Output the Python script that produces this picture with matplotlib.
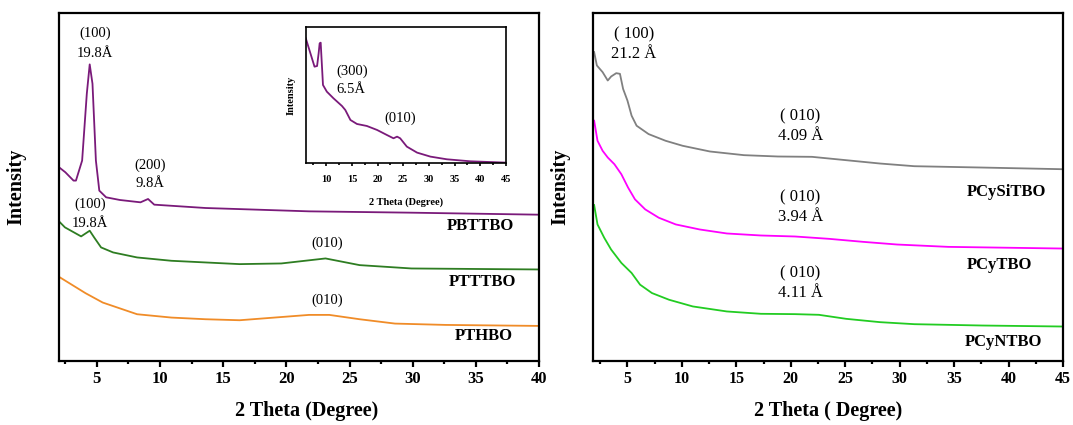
import matplotlib

matplotlib.use('Agg')

import matplotlib.pyplot as plt
from matplotlib.ticker import MultipleLocator

plt.rcParams['font.family'] = ['Liberation Serif', 'DejaVu Serif']

# --- left panel data (arbitrary intensity units) ---
pbttbo_x = [2.0, 2.5, 3.15, 3.34, 3.83, 4.2, 4.43, 4.65, 4.92, 5.19, 5.73, 6.82,
            8.45, 9.05, 9.54, 13.6, 21.8, 29.9, 40.0]
pbttbo_y = [580, 565, 540, 540, 600, 800, 888, 830, 600, 510, 490, 482,
            475, 485, 468, 458, 448, 444, 438]

ptttbo_x = [2.0, 2.47, 3.75, 4.43, 4.78, 5.33, 6.28, 8.18, 10.9, 16.3, 19.6,
            23.1, 25.8, 29.9, 40.0]
ptttbo_y = [418, 400, 373, 390, 370, 340, 325, 310, 300, 290, 292,
            307, 287, 277, 274]

pthbo_x = [2.0, 4.1, 5.46, 8.18, 10.9, 13.6, 16.3, 19.05, 21.8, 23.4, 25.8,
           28.6, 32.6, 40.0]
pthbo_y = [252, 203, 175, 140, 130, 125, 122, 130, 138, 138, 125,
           112, 108, 105]

# --- inset data (PBTTBO, wide angle) ---
inset_x = [6.0, 6.9, 7.7, 8.2, 8.5, 8.7, 8.9, 9.35, 10.1, 11.4, 13.05, 13.7,
           14.7, 15.97, 17.9, 19.9, 21.8, 23.1, 23.8, 24.4, 25.7, 27.7,
           30.3, 33.5, 38.05, 45.0]
inset_y = [375, 330, 290, 292, 330, 360, 362, 235, 215, 195, 172, 160,
           130, 118, 112, 100, 85, 75, 80, 75, 50, 32,
           20, 12, 6, 2]

# --- right panel data ---
pcysitbo_x = [1.94, 2.19, 2.72, 3.19, 3.5, 3.97, 4.31, 4.6, 5.0, 5.38, 5.84,
              6.94, 8.5, 10.07, 12.57, 15.7, 18.82, 21.95, 25.08, 28.2,
              31.35, 37.6, 45.0]
pcysitbo_y = [923, 883, 863, 838, 850, 860, 858, 813, 778, 733, 703,
              678, 658, 643, 626, 615, 611, 610, 600, 590,
              582, 578, 573]

pcytbo_x = [1.94, 2.25, 2.72, 3.19, 3.8, 4.44, 5.06, 5.69, 6.63, 7.88, 9.44,
            11.63, 14.13, 17.26, 20.39, 23.51, 26.64, 29.77, 34.46, 45.0]
pcytbo_y = [718, 658, 628, 608, 588, 558, 518, 483, 453, 428, 408,
            393, 381, 375, 372, 365, 356, 348, 341, 336]

pcyntbo_x = [1.94, 2.25, 2.87, 3.5, 4.44, 5.38, 6.16, 7.25, 8.82, 11.0, 14.13,
             17.26, 20.39, 22.58, 25.08, 28.2, 31.35, 37.6, 45.0]
pcyntbo_y = [466, 408, 368, 333, 293, 263, 228, 203, 183, 163, 148,
             141, 140, 138, 126, 116, 110, 106, 103]

fig = plt.figure(figsize=(10.73, 4.25), dpi=100)

ax1 = fig.add_axes([0.055, 0.1506, 0.4473, 0.819])
ax2 = fig.add_axes([0.5527, 0.1506, 0.438, 0.819])
axin = fig.add_axes([0.285, 0.6158, 0.1864, 0.3214])


def style_axis(ax, label_size, spine_w, major, minor):
    for s in ax.spines.values():
        s.set_linewidth(spine_w)
    ax.set_yticks([])
    ax.xaxis.set_major_locator(MultipleLocator(major))
    ax.xaxis.set_minor_locator(MultipleLocator(minor))
    ax.tick_params(axis='x', which='major', direction='out', length=4,
                   width=spine_w, labelsize=label_size, pad=3)
    ax.tick_params(axis='x', which='minor', direction='out', length=2,
                   width=spine_w)
    for lbl in ax.get_xticklabels():
        lbl.set_fontweight('bold')


def set_labels(ax, xlabel, ylabel, size, xpos, ypos):
    ax.set_xlabel(xlabel, fontsize=size, fontweight='bold', va='center')
    ax.set_ylabel(ylabel, fontsize=size, fontweight='bold', va='center')
    ax.xaxis.set_label_coords(*xpos)
    ax.yaxis.set_label_coords(*ypos)


# left panel
ax1.plot(pbttbo_x, pbttbo_y, color='#7a1a7a', lw=1.3)
ax1.plot(ptttbo_x, ptttbo_y, color='#2e7d22', lw=1.3)
ax1.plot(pthbo_x, pthbo_y, color='#f08c28', lw=1.3)
ax1.set_xlim(2, 40)
ax1.set_ylim(0, 1042)
style_axis(ax1, 12, 1.6, 5, 2.5)
set_labels(ax1, '2 Theta (Degree)', 'Intensity', 14.5,
           (0.516, -0.144), (-0.088, 0.5))

ann = dict(fontsize=10.5, ha='center', va='center')
ax1.text(4.84, 980, '(100)', **ann)
ax1.text(4.84, 922, '19.8Å', **ann)
ax1.text(9.2, 585, '(200)', **ann)
ax1.text(9.2, 530, '9.8Å', **ann)
ax1.text(4.43, 468, '(100)', **ann)
ax1.text(4.43, 412, '19.8Å', **ann)
ax1.text(23.26, 352, '(010)', **ann)
ax1.text(23.26, 183, '(010)', **ann)

name = dict(fontsize=12, fontweight='bold', ha='center', va='center')
ax1.text(35.4, 405, 'PBTTBO', **name)
ax1.text(35.5, 237, 'PTTTBO', **name)
ax1.text(35.6, 75, 'PTHBO', **name)

# inset
axin.plot(inset_x, inset_y, color='#7a1a7a', lw=1.3)
axin.set_xlim(6, 45)
axin.set_ylim(0, 410)
style_axis(axin, 7.5, 1.2, 5, 2.5)
axin.tick_params(axis='x', which='major', length=2.5, pad=6)
axin.tick_params(axis='x', which='minor', length=1.5)
set_labels(axin, '2 Theta (Degree)', 'Intensity', 7.5,
           (0.5, -0.288), (-0.075, 0.5))
axin.text(11.9, 275, '(300)', fontsize=10.5, ha='left', va='center')
axin.text(11.9, 220, '6.5Å', fontsize=10.5, ha='left', va='center')
axin.text(24.4, 135, '(010)', fontsize=10.5, ha='center', va='center')

# right panel
ax2.plot(pcysitbo_x, pcysitbo_y, color='#808080', lw=1.3)
ax2.plot(pcytbo_x, pcytbo_y, color='#ff00ff', lw=1.3)
ax2.plot(pcyntbo_x, pcyntbo_y, color='#22cc22', lw=1.3)
ax2.set_xlim(1.84, 45)
ax2.set_ylim(0, 1040)
style_axis(ax2, 11.5, 1.6, 5, 2.5)
set_labels(ax2, '2 Theta ( Degree)', 'Intensity', 14.5,
           (0.5, -0.144), (-0.07, 0.5))

ann2 = dict(fontsize=12, ha='center', va='center')
ax2.text(5.6, 975, '( 100)', **ann2)
ax2.text(5.6, 918, '21.2 Å', **ann2)
ax2.text(20.86, 730, '( 010)', **ann2)
ax2.text(20.86, 671, '4.09 Å', **ann2)
ax2.text(20.86, 488, '( 010)', **ann2)
ax2.text(20.86, 430, '3.94 Å', **ann2)
ax2.text(20.86, 261, '( 010)', **ann2)
ax2.text(20.86, 202, '4.11 Å', **ann2)

ax2.text(39.84, 506, 'PCySiTBO', **name)
ax2.text(39.2, 286, 'PCyTBO', **name)
ax2.text(39.5, 56, 'PCyNTBO', **name)

fig.savefig('out.png', dpi=100)
